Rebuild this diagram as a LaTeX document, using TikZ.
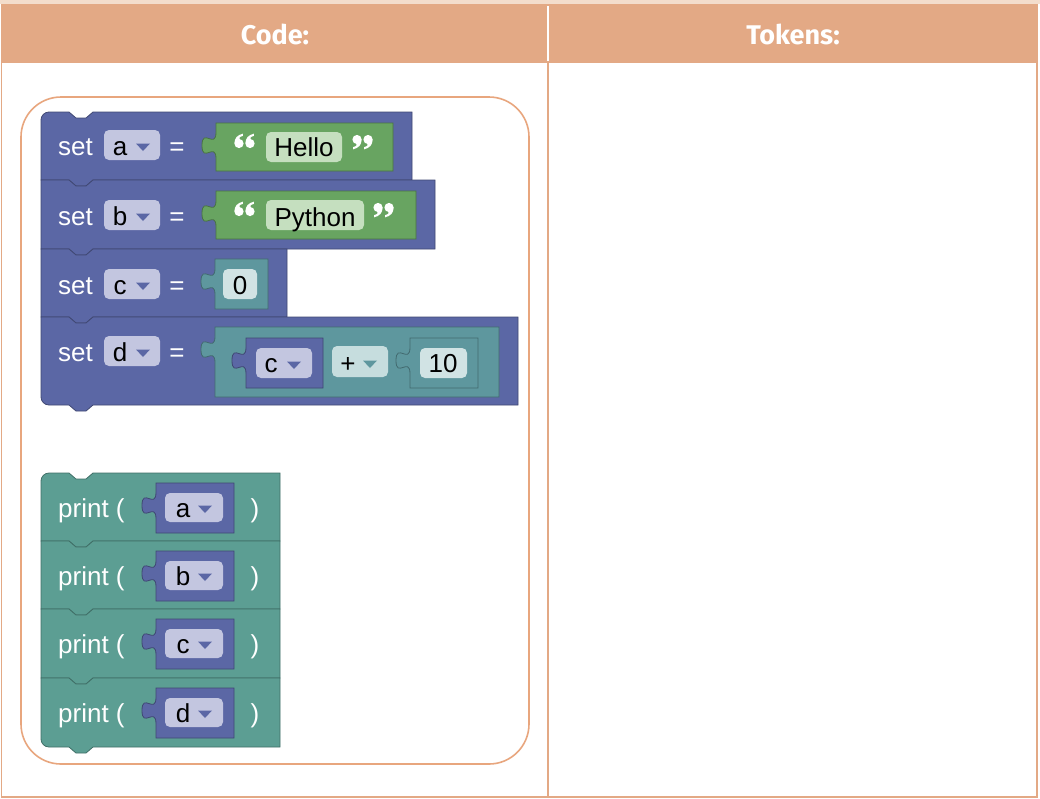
\documentclass[tikz,border=0pt]{standalone}
\usepackage{fontspec}
\setmainfont{Liberation Sans}
\newfontfamily\headfont{Fira Sans}
\usepackage{tikz}
\definecolor{setblue}{HTML}{5B67A5}
\definecolor{printteal}{HTML}{5C9E93}
\definecolor{numteal}{HTML}{5E979E}
\definecolor{textgreen}{HTML}{68A461}
\definecolor{varfield}{HTML}{C3C6E0}
\definecolor{txtfield}{HTML}{C5DFBF}
\definecolor{numfield}{HTML}{D1E3E4}
\definecolor{opfield}{HTML}{C6DDDE}
\definecolor{headorange}{HTML}{E3A985}
\definecolor{frameorange}{HTML}{E8A67E}
\definecolor{topstrip}{HTML}{F3DDCC}
% statement block: [colour](left,top,right,bottom)(top radius:bottom radius)
\def\stmtblock[#1](#2,#3,#4,#5)(#6:#7){\filldraw[fill=#1, draw=#1!70!black, line width=0.8pt] (#2,#3+#6) .. controls (#2,#3+0.45*#6) and (#2+0.45*#6,#3) .. (#2+#6,#3) -- (#2+28,#3) -- (#2+35,#3+6) -- (#2+45,#3+6) -- (#2+52,#3) -- (#4,#3) -- (#4,#5) -- (#2+52,#5) -- (#2+45,#5+6) -- (#2+35,#5+6) -- (#2+28,#5) -- (#2+#7,#5) .. controls (#2+0.45*#7,#5) and (#2,#5-0.45*#7) .. (#2,#5-#7) -- cycle;}
% value block with its tab on the left
\def\valbox[#1](#2,#3,#4,#5){\filldraw[fill=#1, draw=#1!70!black, line width=0.8pt] (#2,#3) -- (#4,#3) -- (#4,#5) -- (#2,#5) -- (#2,#3+36) .. controls (#2,#3+18) and (#2-14,#3+41) .. (#2-14,#3+22.5) .. controls (#2-14,#3+4) and (#2,#3+27) .. (#2,#3+9) -- cycle;}
\def\fieldbox[#1](#2,#3,#4,#5){\fill[#1, rounded corners=5] (#2,#3) rectangle (#4,#5);}
\def\ddarrow[#1](#2,#3){\fill[#1] (#2-7,#3-3.5) -- (#2+7,#3-3.5) -- (#2,#3+4) -- cycle;}
% one quote mark: dot centre (x,y), s=1 for a 6, s=-1 for a 9
\def\qmark(#1,#2,#3){\fill[white] (#1,#2) circle (4.6); \fill[white] ({#1-4.6*(#3)},#2) .. controls ({#1-4.6*(#3)},{#2-5.5*(#3)}) and ({#1-1.5*(#3)},{#2-8.5*(#3)}) .. ({#1+3.8*(#3)},{#2-9.8*(#3)}) -- ({#1+3.8*(#3)},{#2-7.6*(#3)}) .. controls ({#1+0.5*(#3)},{#2-6.8*(#3)}) and ({#1-0.5*(#3)},{#2-5*(#3)}) .. ({#1+0.5*(#3)},{#2-4.2*(#3)}) -- cycle;}

\begin{document}
\begin{tikzpicture}[x=1pt, y=-1pt,
	blocktext/.style={text=white, inner sep=0pt, font=\fontsize{26}{30}\selectfont},
	fieldtext/.style={text=black, inner sep=0pt, font=\fontsize{26}{30}\selectfont},
	headtext/.style={text=white, inner sep=0pt, font=\headfont\bfseries\fontsize{27}{30}\selectfont}]
			%%%%% START %%%%%
			\useasboundingbox (0,0) rectangle (1040,798);
			\fill[white] (0,0) rectangle (1040,798);
			
			%%%%% TABLE %%%%%
			\fill[topstrip] (0,0) rectangle (1040,4);
			\fill[headorange] (1,4) rectangle (1038,63);
			\draw[line width=2pt, color=white] (548,6) -- (548,61);
			\draw[line width=1.6pt, color=headorange] (1.5,63) -- (1.5,797) -- (1037,797) -- (1037,63);
			\draw[line width=1.6pt, color=headorange] (548,63) -- (548,797);
			\node[headtext, anchor=base] (code) at (275,44) {Code:};
			\node[headtext, anchor=base] (tokens) at (793,44) {Tokens:};
			
			\draw[line width=1.6pt, color=frameorange, rounded corners=40] (21,97) rectangle (529,764);
			
			%%%%% SET BLOCKS %%%%%
			\stmtblock[setblue](41,112,412,180)(8:0)
			\stmtblock[setblue](41,180,435,249)(0:0)
			\stmtblock[setblue](41,249,287,317)(0:0)
			\stmtblock[setblue](41,317,518,405)(0:8)
			
			% set a = "Hello"
			\node[blocktext, anchor=base west] (seta) at (58,155) {set};
			\fieldbox[varfield](104,130,160,160)
			\node[fieldtext, anchor=base] (vara) at (120,155) {a};
			\ddarrow[setblue](143,147)
			\node[blocktext, anchor=base] (eqa) at (177,155) {=};
			\valbox[textgreen](216,123,393,171)
			\qmark(239,143.5,1) \qmark(250,143.5,1)
			\fieldbox[txtfield](266,132,342,162)
			\node[fieldtext, anchor=base] (hello) at (304,156) {Hello};
			\qmark(357,139.5,-1) \qmark(368,139.5,-1)
			
			% set b = "Python"
			\node[blocktext, anchor=base west] (setb) at (58,225) {set};
			\fieldbox[varfield](104,200,160,230)
			\node[fieldtext, anchor=base] (varb) at (120,225) {b};
			\ddarrow[setblue](143,217)
			\node[blocktext, anchor=base] (eqb) at (177,225) {=};
			\valbox[textgreen](216,191,416,239)
			\qmark(239,211.5,1) \qmark(250,211.5,1)
			\fieldbox[txtfield](266,200,364,230)
			\node[fieldtext, anchor=base] (python) at (315,226) {Python};
			\qmark(378,207.5,-1) \qmark(389,207.5,-1)
			
			% set c = 0
			\node[blocktext, anchor=base west] (setc) at (58,294) {set};
			\fieldbox[varfield](104,269,160,299)
			\node[fieldtext, anchor=base] (varc) at (120,294) {c};
			\ddarrow[setblue](143,286)
			\node[blocktext, anchor=base] (eqc) at (177,294) {=};
			\valbox[numteal](215,259,268,309)
			\fieldbox[numfield](223,269,257,299)
			\node[fieldtext, anchor=base] (zero) at (240,294) {0};
			
			% set d = c + 10
			\node[blocktext, anchor=base west] (setd) at (58,361) {set};
			\fieldbox[varfield](104,336,160,366)
			\node[fieldtext, anchor=base] (vard) at (120,361) {d};
			\ddarrow[setblue](143,353)
			\node[blocktext, anchor=base] (eqd) at (177,361) {=};
			\valbox[numteal](215,327,499,397)
			\valbox[setblue](246,338,323,388)
			\fieldbox[varfield](256,348,312,378)
			\node[fieldtext, anchor=base] (getc) at (271,372) {c};
			\ddarrow[setblue](294,365)
			\fieldbox[opfield](332,346,388,377)
			\node[fieldtext, anchor=base] (plus) at (348,372) {+};
			\ddarrow[numteal](370,364)
			\valbox[numteal](410,338,478,388)
			\fieldbox[numfield](420,348,467,378)
			\node[fieldtext, anchor=base] (ten) at (443,372) {10};
			
			%%%%% PRINT BLOCKS %%%%%
			\stmtblock[printteal](41,473,280,541)(8:0)
			\stmtblock[printteal](41,541,280,609)(0:0)
			\stmtblock[printteal](41,609,280,678)(0:0)
			\stmtblock[printteal](41,678,280,747)(0:8)
			
			\foreach \T/\v in {473/a, 541/b, 609/c, 678/d}{
				\node[blocktext, anchor=base west] (print\v) at (58,\T+44) {print (};
				\valbox[setblue](156,\T+10,234,\T+60)
				\fieldbox[varfield](165,\T+20,223,\T+49)
				\node[fieldtext, anchor=base] (pvar\v) at (183,\T+44) {\v};
				\ddarrow[setblue](205,\T+36)
				\node[blocktext, anchor=base] (close\v) at (255,\T+44) {)};
			}
			
			%%%%% END %%%%%
\end{tikzpicture}
\end{document}
